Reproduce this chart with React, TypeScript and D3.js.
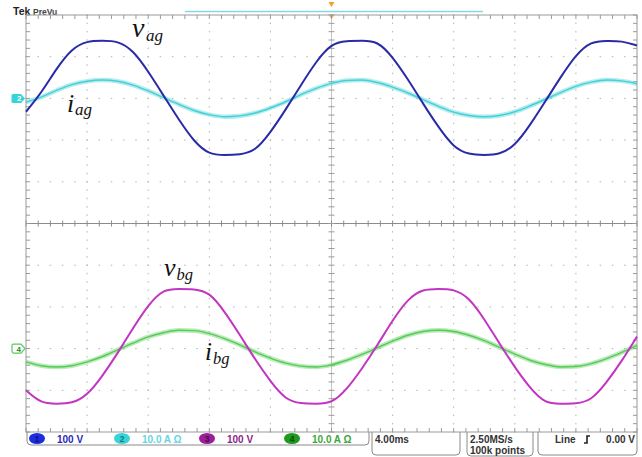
import { curveBasis, curveMonotoneX, line, range, scaleLinear } from 'd3'

// sample times across the 10 divisions (4.00 ms/div)
const sampleMs = [
  0, 1, 2, 3, 4, 5, 6, 7, 8, 9, 10, 11, 12, 13, 14, 15, 16, 17, 18, 19, 20,
  21, 22, 23, 24, 25, 26, 27, 28, 29, 30, 31, 32, 33, 34, 35, 36, 37, 38, 39, 40,
]

// channel 1, volts
const vagVolts = [
  -32, 13, 72, 120, 138, 138, 138, 116, 65, 7, -51, -104, -135, -136, -135,
  -127, -82, -27, 32, 89, 132, 138, 138, 138, 100, 46, -13, -69, -118, -135,
  -136, -135, -114, -64, -7, 51, 105, 137, 138, 138, 127,
]

// channel 2, amps
const iagAmps = [
  -0.9, 0.3, 1.9, 3.3, 4.1, 4.4, 4.1, 3.2, 1.8, 0.2, -1.4, -2.9, -3.9, -4.4,
  -4.2, -3.5, -2.3, -0.8, 0.9, 2.4, 3.6, 4.3, 4.4, 3.8, 2.7, 1.3, -0.3, -1.9,
  -3.3, -4.1, -4.4, -4.1, -3.2, -1.8, -0.2, 1.4, 2.9, 3.9, 4.4, 4.2, 3.5,
]

// channel 3, volts
const vbgVolts = [
  -100, -132, -132, -132, -113, -66, -11, 49, 105, 143, 143, 143, 136, 89, 33,
  -26, -79, -123, -132, -132, -132, -98, -48, 8, 68, 120, 143, 143, 143, 123,
  71, 12, -45, -95, -132, -132, -132, -125, -82, -30, 29,
]

// channel 4, amps
const ibgAmps = [
  -3.2, -4.1, -4.4, -4.1, -3.2, -1.9, -0.3, 1.3, 2.8, 3.8, 4.4, 4.3, 3.6, 2.4,
  0.9, -0.8, -2.3, -3.5, -4.2, -4.4, -3.9, -2.8, -1.4, 0.2, 1.8, 3.2, 4.1, 4.4,
  4.1, 3.2, 1.9, 0.3, -1.3, -2.8, -3.8, -4.4, -4.3, -3.6, -2.4, -0.9, 0.8,
]

const channelIds = ['1', '2', '3', '4']
const channelScales = ['100 V', '10.0 A \u03a9', '100 V', '10.0 A \u03a9']
const voltsPerDiv = 100
const ampsPerDiv = 10
const offsetTopDiv = 3
const offsetBottomDiv = -3

const colors = {
  vag: '#2a2aa6',
  iag: '#45d0d6',
  vbg: '#c235c2',
  ibg: '#55cc55',
  frame: '#9a9a9a',
  grid: '#b4b4b4',
  chip: ['#1c2ce0', '#37d3d8', '#9a1f9a', '#1e9a1e'],
  chipText: ['#13137a', '#137a80', '#4a0a4a', '#0a4a0a'],
  readout: ['#2a2ab8', '#64d6e0', '#8a1f8a', '#3aa83a'],
}

const W = 642
const H = 457
const left = 26
const right = 637
const top = 15
const bottom = 432

export default function App() {
  const x = scaleLinear().domain([0, 40]).range([left, right])
  const yDiv = scaleLinear().domain([-5, 5]).range([bottom, top])

  const minorMs = range(0, 40.001, 0.8)
  const minorDiv = range(-5, 5.001, 0.2)
  const majorMs = range(4, 37, 4).filter(t => t !== 20)
  const majorDiv = [-4, -3, -2, -1, 1, 2, 3, 4]

  const trace = (values: number[], perDiv: number, offset: number, smooth: boolean) =>
    line<number>()
      .x((_, i) => x(sampleMs[i]))
      .y(v => yDiv(v / perDiv + offset))
      .curve(smooth ? curveBasis : curveMonotoneX)(values) ?? ''

  const vagPath = trace(vagVolts, voltsPerDiv, offsetTopDiv, true)
  const iagPath = trace(iagAmps, ampsPerDiv, offsetTopDiv, false)
  const vbgPath = trace(vbgVolts, voltsPerDiv, offsetBottomDiv, true)
  const ibgPath = trace(ibgAmps, ampsPerDiv, offsetBottomDiv, false)

  const cx = x(20)
  const cy = yDiv(0)
  const yTop = yDiv(offsetTopDiv)
  const yBottom = yDiv(offsetBottomDiv)

  const chipX = [37, 122, 207, 292]
  const readoutX = [57, 142, 227, 312]

  return (
    <svg
      width={W}
      height={H}
      viewBox={`0 0 ${W} ${H}`}
      style={{ position: 'fixed', left: 0, top: 0, background: '#fff' }}
      fontFamily="'Liberation Sans', Arial, sans-serif"
    >
      <rect width={W} height={H} fill="#fff" />

      {/* header */}
      <text x={13} y={15} fontSize={10.5} fontWeight={700} fill="#222">
        Tek
      </text>
      <text x={33} y={14.5} fontSize={8.5} fontWeight={700} fill="#444">
        PreVu
      </text>
      <line x1={185} x2={483} y1={11.5} y2={11.5} stroke="#86d8e6" strokeWidth={1.5} />
      <path d={`M${cx - 3},2 h6 l-3,5 z`} fill="#f0a030" />
      <circle cx={cx} cy={top + 1} r={2} fill="#f3b050" />

      {/* dotted grid */}
      {majorDiv.map(d =>
        minorMs.map(t => (
          <rect key={`h${d}-${t}`} x={x(t) - 0.75} y={yDiv(d) - 0.5} width={1.5} height={1} fill={colors.grid} />
        ))
      )}
      {majorMs.map(t =>
        minorDiv.map(d => (
          <rect key={`v${t}-${d}`} x={x(t) - 0.5} y={yDiv(d) - 0.75} width={1} height={1.5} fill={colors.grid} />
        ))
      )}

      {/* center axes */}
      <line x1={left} x2={right} y1={cy} y2={cy} stroke="#8c8c8c" strokeWidth={1} />
      <line x1={cx} x2={cx} y1={top} y2={bottom} stroke="#c4c4c4" strokeWidth={1} />
      {minorMs.map(t => (
        <line key={`ct${t}`} x1={x(t)} x2={x(t)} y1={cy - 3} y2={cy + 3} stroke="#8c8c8c" />
      ))}
      {minorDiv.map(d => (
        <line key={`cv${d}`} x1={cx - 3} x2={cx + 3} y1={yDiv(d)} y2={yDiv(d)} stroke="#9c9c9c" />
      ))}

      {/* frame with edge ticks */}
      <rect x={left} y={top} width={right - left} height={bottom - top} fill="none" stroke={colors.frame} />
      {minorMs.map(t => (
        <g key={`ft${t}`} stroke={colors.frame}>
          <line x1={x(t)} x2={x(t)} y1={top} y2={top + 4} />
          <line x1={x(t)} x2={x(t)} y1={bottom - 4} y2={bottom} />
        </g>
      ))}
      {minorDiv.map(d => (
        <g key={`fv${d}`} stroke={colors.frame}>
          <line x1={left} x2={left + 4} y1={yDiv(d)} y2={yDiv(d)} />
          <line x1={right - 4} x2={right} y1={yDiv(d)} y2={yDiv(d)} />
        </g>
      ))}

      {/* traces */}
      <path d={iagPath} fill="none" stroke={colors.iag} strokeWidth={4.5} strokeOpacity={0.4} />
      <path d={iagPath} fill="none" stroke={colors.iag} strokeWidth={1.4} />
      <path d={vagPath} fill="none" stroke={colors.vag} strokeWidth={2} />
      <path d={ibgPath} fill="none" stroke={colors.ibg} strokeWidth={4.5} strokeOpacity={0.4} />
      <path d={ibgPath} fill="none" stroke={colors.ibg} strokeWidth={1.4} />
      <path d={vbgPath} fill="none" stroke={colors.vbg} strokeWidth={2} />

      {/* ground markers */}
      <path
        d={`M13,${yTop - 4.5} h8 l4,4.5 l-4,4.5 h-8 q-1.5,0 -1.5,-1.5 v-6 q0,-1.5 1.5,-1.5 z`}
        fill={colors.chip[1]}
      />
      <text x={17} y={yTop + 3} fontSize={8} fontWeight={700} fill="#fff">
        {channelIds[1]}
      </text>
      <path
        d={`M13.5,${yBottom - 4.5} h7.5 l4,4.5 l-4,4.5 h-7.5 q-1.5,0 -1.5,-1.5 v-6 q0,-1.5 1.5,-1.5 z`}
        fill="#fff"
        stroke={colors.ibg}
        strokeWidth={1.2}
      />
      <text x={16.5} y={yBottom + 3} fontSize={8} fontWeight={700} fill="#1e8a1e">
        {channelIds[3]}
      </text>

      {/* trace labels */}
      <g fontFamily="'Liberation Serif', 'Times New Roman', serif" fontStyle="italic" fill="#111">
        <text x={132} y={37} fontSize={28}>v</text>
        <text x={146} y={41} fontSize={17}>ag</text>
        <text x={67} y={112} fontSize={26}>i</text>
        <text x={75} y={115} fontSize={17}>ag</text>
        <text x={164} y={276} fontSize={26}>v</text>
        <text x={176.5} y={280} fontSize={16.5}>bg</text>
        <text x={205} y={360} fontSize={25}>i</text>
        <text x={213} y={364} fontSize={16.5}>bg</text>
      </g>

      {/* status bar */}
      <path
        d={`M27,${bottom} v9 q0,4 4,4 h334 q4,0 4,-4 v-9`}
        fill="none"
        stroke="#8a8a8a"
      />
      {channelIds.map((id, i) => (
        <g key={`chip${id}`}>
          <ellipse cx={chipX[i]} cy={438.5} rx={8} ry={5.5} fill={colors.chip[i]} />
          <text x={chipX[i]} y={441.5} fontSize={8.5} fontWeight={700} textAnchor="middle" fill={colors.chipText[i]}>
            {id}
          </text>
          <text x={readoutX[i]} y={443} fontSize={10} fontWeight={700} fill={colors.readout[i]}>
            {channelScales[i]}
          </text>
        </g>
      ))}

      <g fill="none" stroke="#8a8a8a">
        <path d={`M372,${bottom} v19 q0,4 4,4 h80 q4,0 4,-4 v-19`} />
        <path d={`M467,${bottom} v20 q0,4 4,4 h58 q4,0 4,-4 v-20`} />
        <path d={`M538,${bottom} v19 q0,4 4,4 h91 q4,0 4,-4 v-19`} />
      </g>
      <g fontSize={10} fontWeight={700} fill="#333">
        <text x={375} y={443}>4.00ms</text>
        <text x={470} y={443}>2.50MS/s</text>
        <text x={470} y={454}>100k points</text>
        <text x={555} y={443}>Line</text>
        <text x={635} y={443} textAnchor="end">0.00 V</text>
      </g>
      <path d="M584,443 h3 v-7 h3" fill="none" stroke="#222" strokeWidth={1.6} />
    </svg>
  )
}
